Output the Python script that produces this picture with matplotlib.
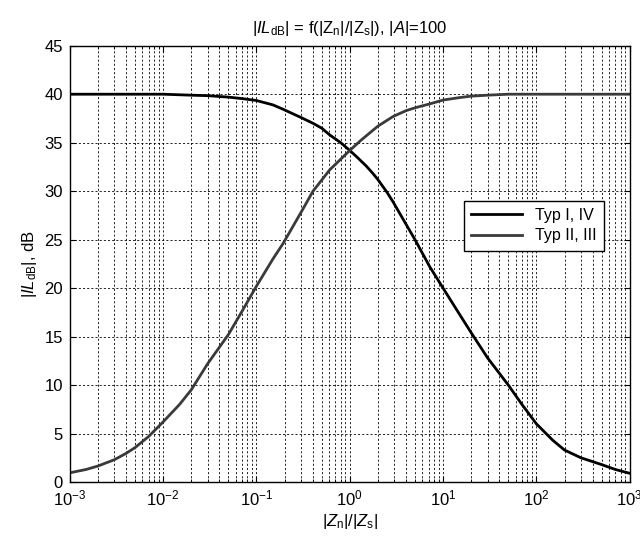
import numpy as np
import matplotlib
matplotlib.use("Agg")
import matplotlib.pyplot as plt

plt.rcParams["font.family"] = ["Liberation Sans", "DejaVu Sans"]
plt.rcParams["mathtext.fontset"] = "custom"
plt.rcParams["mathtext.rm"] = "Liberation Sans"
plt.rcParams["mathtext.it"] = "Liberation Sans:italic"
plt.rcParams["mathtext.default"] = "regular"

# values (x is |Zn|/|Zs|)
ratio_1_4 = [0.001, 0.003, 0.01, 0.02, 0.03, 0.05, 0.07, 0.1, 0.15, 0.193,
             0.25, 0.3, 0.404, 0.5, 0.61, 0.8, 1.0, 1.2, 1.5, 1.78, 2.0, 2.5, 2.91,
             4.0, 5.0, 7.2, 10, 15, 20, 30, 50, 70, 100, 150, 200, 300,
             500, 700, 1000]
typ_1_4 = [40.0, 40.0, 40.0, 39.9, 39.85, 39.7, 39.55, 39.35, 38.9, 38.45,
           37.95, 37.6, 37.0, 36.5, 35.8, 35.0, 34.2, 33.5, 32.6, 31.8, 31.2, 29.9, 28.9,
           26.6, 25.0, 22.2, 20.0, 17.3, 15.4, 12.8, 10.0, 8.0, 6.0, 4.3, 3.3, 2.5,
           1.8, 1.3, 0.9]

ratio_2_3 = [0.001, 0.0015, 0.002, 0.003, 0.004, 0.005, 0.007, 0.01, 0.015,
             0.02, 0.03, 0.05, 0.07, 0.1, 0.15, 0.193, 0.3, 0.404, 0.61, 0.8,
             1.0, 1.3, 1.78, 2.0, 2.91, 4.0, 5.0, 7.2, 10, 15, 20, 30, 50,
             100, 1000]
typ_2_3 = [0.95, 1.3, 1.65, 2.3, 2.95, 3.55, 4.7, 6.2, 8.0,
           9.5, 12.2, 15.2, 17.6, 20.2, 23.0, 24.6, 27.8, 30.0, 32.2, 33.3,
           34.2, 35.2, 36.3, 36.7, 37.7, 38.3, 38.6, 39.0, 39.4, 39.65, 39.8, 39.9, 40.0,
           40.0, 40.0]

fig = plt.figure(figsize=(6.4, 5.38), dpi=100, facecolor="white")
ax = fig.add_axes([0.109, 0.104, 0.875, 0.811])

ax.plot(ratio_1_4, typ_1_4, color="black", lw=2.0, label="Typ I, IV")
ax.plot(ratio_2_3, typ_2_3, color="#3a3a3a", lw=2.0, label="Typ II, III")

ax.set_xscale("log")
ax.set_xlim(1e-3, 1e3)
ax.set_ylim(0, 45)
ax.set_yticks(np.arange(0, 46, 5))

dash = (0, (2.5, 2.5))
ax.grid(True, which="major", axis="both", color="black", linestyle=dash, lw=0.6)
ax.grid(True, which="minor", axis="x", color="black", linestyle=dash, lw=0.6)
ax.tick_params(which="both", direction="in", top=True, right=True, labelsize=12, color="black")
ax.tick_params(which="major", length=4, pad=5)
ax.tick_params(which="minor", length=2)
for s in ax.spines.values():
    s.set_linewidth(1.0)

ax.set_title(r"|$\mathit{IL}_{\mathrm{dB}}$| = f(|Z$_\mathrm{n}$|/|Z$_\mathrm{s}$|), |$\mathit{A}$|=100",
             fontsize=12, pad=9)
ax.set_xlabel(r"|$\mathit{Z}_\mathrm{n}$|/|$\mathit{Z}_\mathrm{s}$|", fontsize=12, labelpad=2)
ax.set_ylabel(r"|$\mathit{IL}_{\mathrm{dB}}$|, dB", fontsize=12, labelpad=4)

leg = ax.legend(loc="upper right", bbox_to_anchor=(0.954, 0.645), fontsize=11.5,
                fancybox=False, framealpha=1, edgecolor="black", borderaxespad=0,
                handlelength=3.2, borderpad=0.45, labelspacing=0.35)
leg.get_frame().set_linewidth(1.0)

fig.savefig("out.png", dpi=100, facecolor="white")
